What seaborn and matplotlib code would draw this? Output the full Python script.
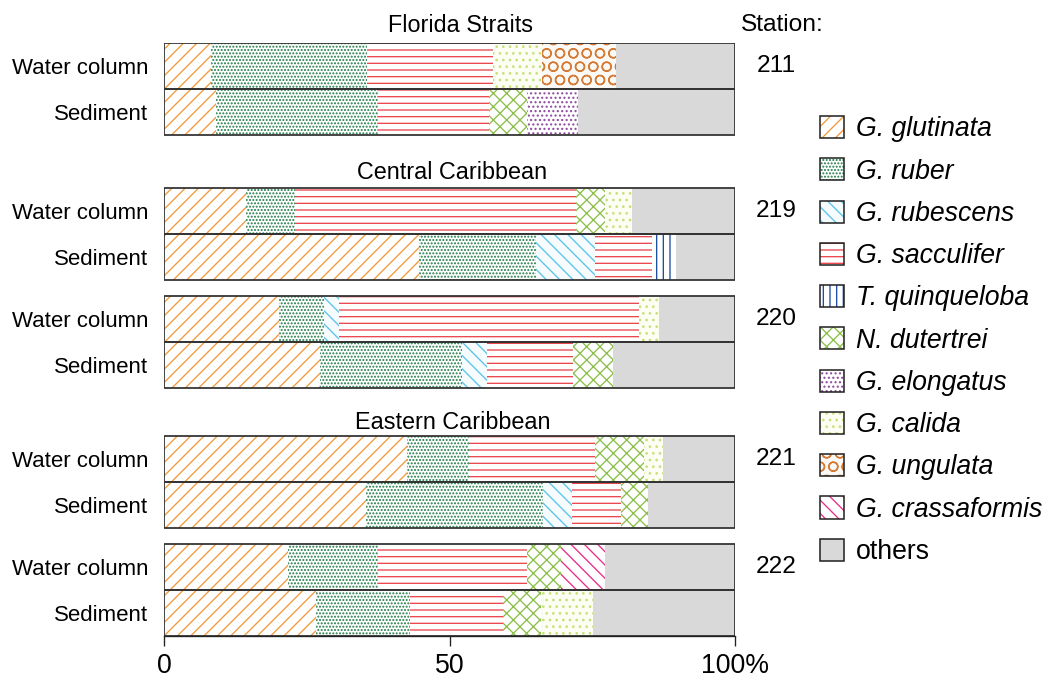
import numpy as np
import pandas as pd
import seaborn as sns
import matplotlib.pyplot as plt
from matplotlib.patches import Patch
from matplotlib.legend_handler import HandlerTuple

# rows, top to bottom: (station, sample)
stations = ["211", "219", "220", "221", "222"]
samples = ["Water column", "Sediment"] * 5
regions = ["Florida Straits", "Central Caribbean", "Eastern Caribbean"]

# percentages
glutinata = [8.2, 9.1, 14.4, 44.6, 20.1, 27.3, 42.6, 35.4, 21.8, 26.6]
ruber = [27.3, 28.3, 8.6, 20.5, 8.0, 24.9, 10.9, 31.0, 15.6, 16.5]
rubescens = [0, 0, 0, 10.4, 2.5, 4.3, 0, 5.0, 0, 0]
sacculifer = [22.1, 19.5, 49.1, 9.9, 52.5, 15.1, 22.0, 8.6, 26.2, 16.2]
quinqueloba = [0, 0, 0, 4.3, 0, 0, 0, 0, 0, 0]
dutertrei = [0, 6.7, 5.2, 0, 0, 7.1, 8.6, 4.8, 6.0, 6.7]
elongatus = [0, 8.9, 0, 0, 0, 0, 0, 0, 0, 0]
calida = [8.6, 0, 4.7, 0, 3.6, 0, 3.3, 0, 0, 9.1]
ungulata = [13.0, 0, 0, 0, 0, 0, 0, 0, 0, 0]
crassaformis = [0, 0, 0, 0, 0, 0, 0, 0, 7.7, 0]
others = [20.8, 27.5, 18.0, 10.3, 13.3, 21.3, 12.6, 15.2, 22.7, 24.9]

species = ["G. glutinata", "G. ruber", "G. rubescens", "G. sacculifer",
           "T. quinqueloba", "N. dutertrei", "G. elongatus", "G. calida",
           "G. ungulata", "G. crassaformis", "others"]
values = [glutinata, ruber, rubescens, sacculifer, quinqueloba, dutertrei,
          elongatus, calida, ungulata, crassaformis, others]

# (hatch colour, face colour, hatch)
styles = [
    ("#f39a3c", "white", "//"),
    ("#1d7a45", "white", "...."),
    ("#5cc4ea", "#f6fbfd", "\\\\"),
    ("#ea4a4f", "white", "--"),
    ("#1f4fa0", "white", "||"),
    ("#8cc04a", "white", "xx"),
    ("#8e4a9f", "white", "..."),
    ("#c8e07a", "#fcfdf3", ".."),
    ("#d57a35", "#fbf9f5", "O"),
    ("#e8308a", "white", "\\\\"),
    ("#d9d9d9", "#d9d9d9", ""),
]

# vertical layout of the rows (pairs touch, gaps between stations/regions)
pos = [0, 1, 3.16, 4.16, 5.5, 6.5, 8.56, 9.56, 10.91, 11.91]

sns.set_theme(style="white")
plt.rcParams["font.family"] = ["Liberation Sans", "DejaVu Sans"]
plt.rcParams["hatch.linewidth"] = 1.2
plt.rcParams["text.color"] = "black"
plt.rcParams["xtick.labelcolor"] = "black"
plt.rcParams["ytick.labelcolor"] = "black"

fig = plt.figure(figsize=(13.1, 8.5), dpi=80)
ax = fig.add_axes([164 / 1048, 1 - 636 / 680, (735 - 164) / 1048, (636 - 43) / 680])

cum = np.cumsum(np.array(values), axis=0)
df = pd.DataFrame(cum.T, columns=species)
df["pos"] = pos

# draw cumulative bars from the longest to the shortest
for i in range(len(species) - 1, -1, -1):
    hc, fc, h = styles[i]
    sns.barplot(data=df, x=species[i], y="pos", orient="y", native_scale=True,
                width=1, color=fc, edgecolor=hc, hatch=h, linewidth=0,
                errorbar=None, ax=ax)
    for p in ax.patches[-len(pos):]:
        p.set_facecolor(fc)
        p.set_edgecolor(hc)

# outline of every row
sns.barplot(x=[100] * len(pos), y=pos, orient="y", native_scale=True, width=1,
            fill=False, color="#333333", linewidth=1.6, errorbar=None, ax=ax)

ax.set_xlim(0, 100)
ax.set_ylim(12.41, -0.5)
ax.set_xlabel("")
ax.set_ylabel("")
ax.set_xticks([0, 50, 100])
ax.set_xticklabels(["0", "50", "100%"], fontsize=24)
ax.set_yticks(pos)
ax.set_yticklabels(samples, fontsize=20)
ax.tick_params(axis="x", direction="out", length=9, width=1.2, color="#222222", pad=6, bottom=True)
ax.tick_params(axis="y", length=0, pad=14)
for s in ["top", "left", "right"]:
    ax.spines[s].set_visible(False)
ax.spines["bottom"].set_color("#222222")
ax.spines["bottom"].set_linewidth(1.2)

# region titles and station numbers
for name, x, y in zip(regions, [52.0, 50.5, 50.5], [-0.89, 2.31, 7.76]):
    ax.text(x, y, name, ha="center", va="center", fontsize=21, clip_on=False)
ax.text(108.2, -0.89, "Station:", ha="center", va="center", fontsize=22, clip_on=False)
for st, y in zip(stations, pos[0::2]):
    ax.text(107.2, y, st, ha="center", va="center", fontsize=22, clip_on=False)

# legend: hatched patch plus black frame overlaid
handles = []
for hc, fc, h in styles:
    inner = Patch(facecolor=fc, edgecolor=hc, hatch=h, linewidth=0)
    frame = Patch(facecolor="none", edgecolor="#222222", linewidth=1.4)
    handles.append((inner, frame))
leg = fig.legend(handles, species, handler_map={tuple: HandlerTuple(ndivide=1, pad=0)},
                 loc="upper left", bbox_to_anchor=(820 / 1048, 1 - 116 / 680),
                 frameon=False, fontsize=24, handlelength=0.9, handleheight=0.9,
                 labelspacing=0.6, handletextpad=0.45, borderpad=0, borderaxespad=0)
for t in leg.get_texts()[:-1]:
    t.set_fontstyle("italic")

fig.savefig("out.png", dpi=80)
